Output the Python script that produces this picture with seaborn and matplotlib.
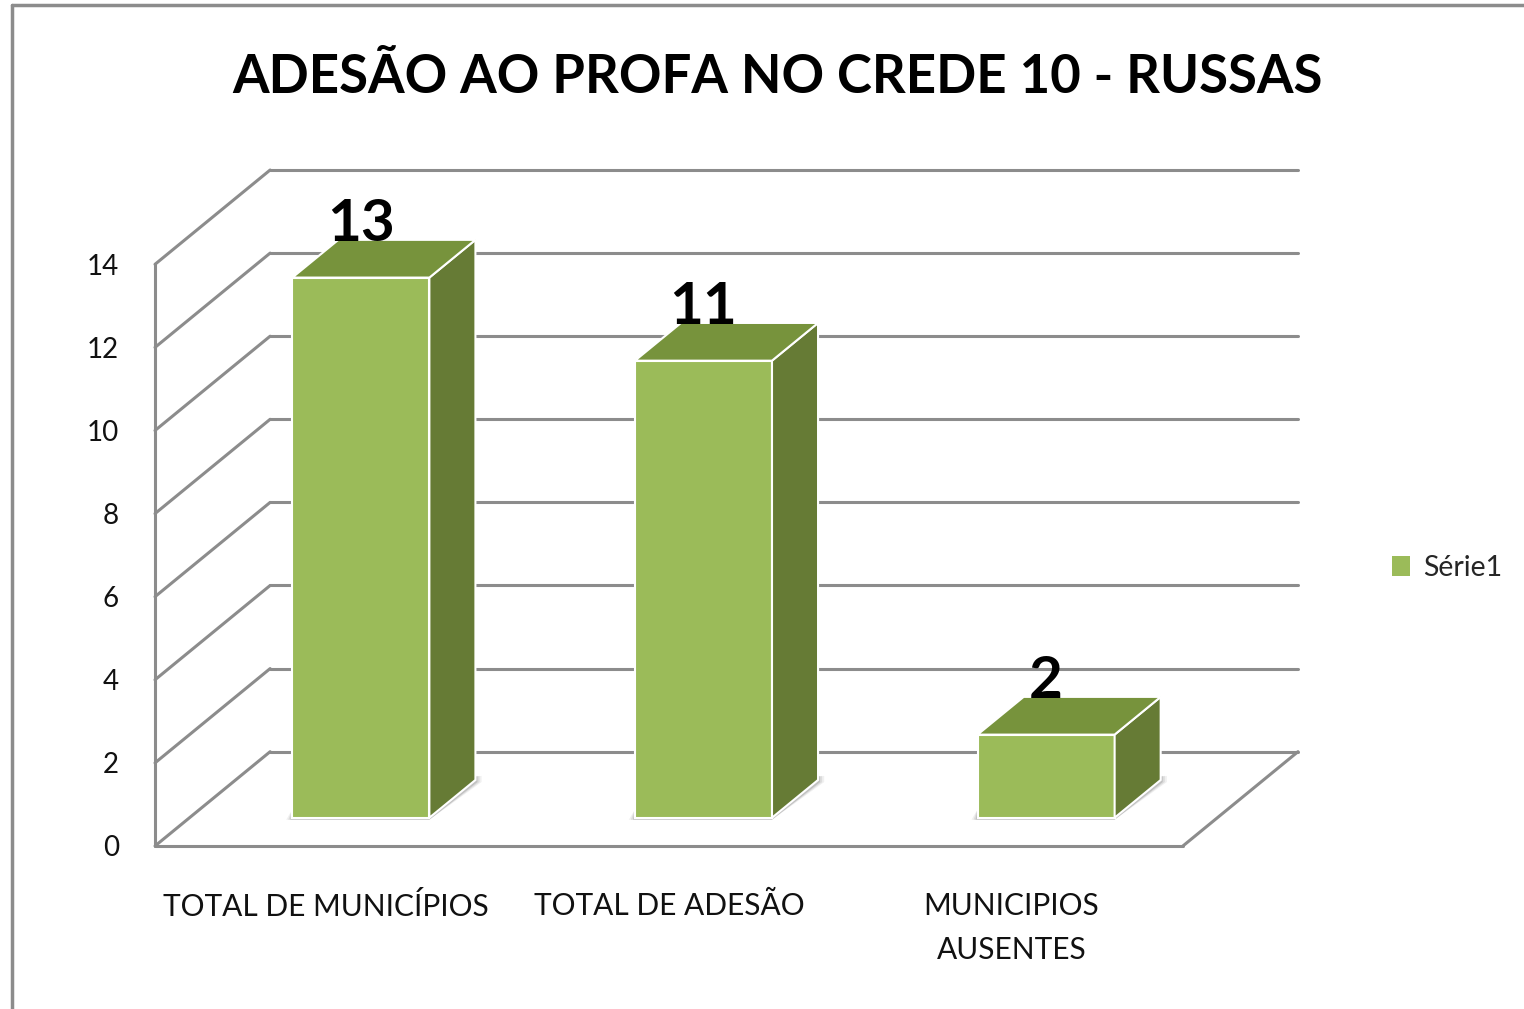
import numpy as np
import pandas as pd
import matplotlib.pyplot as plt
from matplotlib.patches import Polygon, Patch
from matplotlib.lines import Line2D
import seaborn as sns

# ── data ──────────────────────────────────────────────
categories = ["TOTAL DE MUNICÍPIOS", "TOTAL DE ADESÃO", "MUNICIPIOS\nAUSENTES"]
values = [13, 11, 2]
series_name = "Série1"
y_ticks = [0, 2, 4, 6, 8, 10, 12, 14]
title = "ADESÃO AO PROFA NO CREDE 10 - RUSSAS"

df = pd.DataFrame({"cat": categories, "val": values})

# ── style ─────────────────────────────────────────────
sns.set_style("white")
plt.rcParams['font.family'] = ['Lato', 'DejaVu Sans']

FRONT = "#9BBB59"
TOP = "#77933C"
SIDE = "#667B35"
GRID = "#8C8C8C"

# oblique "3D" depth offset, in data units
DX = 0.336
DY = 2.27
BAR_D0, BAR_D1 = 0.3, 0.7   # bar sits between these depth fractions
BAR_W = 0.4

W, H = 1524, 1009
fig = plt.figure(figsize=(W / 100, H / 100), dpi=100)
ax = fig.add_axes([155 / W, (H - 846) / H, (1298 - 155) / W, (846 - 170) / H])

sns.barplot(data=df, x="cat", y="val", width=BAR_W, color=FRONT, saturation=1,
            edgecolor="white", linewidth=1.5, ax=ax, zorder=3)

ax.set_xlim(-0.5, 2.5 + DX)
ax.set_ylim(0, 14 + DY)
n = len(categories)
x0, x1 = -0.5, n - 0.5

# back wall + left wall + floor lines
for v in y_ticks:
    ax.add_line(Line2D([x0 + DX, x1 + DX], [v + DY, v + DY], color=GRID, lw=2.2,
                       zorder=1, clip_on=False))
    ax.add_line(Line2D([x0, x0 + DX], [v, v + DY], color=GRID, lw=2.2,
                       zorder=1, clip_on=False))
ax.add_line(Line2D([x0, x0], [0, max(y_ticks)], color=GRID, lw=2.2, zorder=1, clip_on=False))
ax.add_line(Line2D([x0, x1], [0, 0], color=GRID, lw=2.2, zorder=1, clip_on=False))
ax.add_line(Line2D([x1, x1 + DX], [0, DY], color=GRID, lw=2.2, zorder=1, clip_on=False))

# turn the flat bars into boxes
ox, oy = BAR_D0 * DX, BAR_D0 * DY
dx, dy = (BAR_D1 - BAR_D0) * DX, (BAR_D1 - BAR_D0) * DY
for p, v in zip(ax.patches, values):
    p.set_x(p.get_x() + ox)
    p.set_y(p.get_y() + oy)
    bx, by = p.get_x(), p.get_y()
    bw, bh = p.get_width(), p.get_height()
    # soft shadow
    for k, a in enumerate([0.10, 0.14, 0.20]):
        s = 0.05 * (3 - k)
        ax.add_patch(Polygon([[bx - 0.02 * s * 6, by - 0.05], [bx + bw, by - 0.05],
                              [bx + bw + dx + 0.03 * s * 4, by + dy - 0.05],
                              [bx + bw + dx + 0.03 * s * 4, by + dy + 0.1],
                              [bx, by + 0.2]],
                             closed=True, facecolor="#000000", alpha=a * 0.6,
                             edgecolor="none", zorder=2))
    side = [[bx + bw, by], [bx + bw, by + bh], [bx + bw + dx, by + bh + dy], [bx + bw + dx, by + dy]]
    top = [[bx, by + bh], [bx + bw, by + bh], [bx + bw + dx, by + bh + dy], [bx + dx, by + bh + dy]]
    ax.add_patch(Polygon(side, closed=True, facecolor=SIDE, edgecolor="white", lw=1.5, zorder=4))
    ax.add_patch(Polygon(top, closed=True, facecolor=TOP, edgecolor="white", lw=1.5, zorder=4))
    ax.text(bx + bw / 2, by + bh + dy - 0.02, f"{v}", ha="center", va="baseline",
            fontsize=42, fontweight="bold", color="black", zorder=5)

# axes cosmetics
sns.despine(ax=ax, left=True, bottom=True)
ax.set_xlabel("")
ax.set_ylabel("")
ax.set_yticks(y_ticks)
ax.set_yticklabels([str(t) for t in y_ticks], fontsize=20, color="#111111")
ax.set_xticks(range(n))
ax.set_xticklabels(categories, fontsize=21.5, color="#111111", linespacing=1.7)
ax.tick_params(axis="y", length=0, pad=26)
ax.tick_params(axis="x", length=0, pad=33)
for lbl in ax.get_xticklabels():
    lbl.set_verticalalignment("top")

fig.suptitle(title, x=777 / W, y=1 - 53 / H, va="top", fontsize=38, fontweight="bold",
             color="black")

ax.legend(handles=[Patch(facecolor=FRONT, edgecolor="none", label=series_name)],
          loc="center left", bbox_to_anchor=(1366 / W, 1 - 568 / H),
          bbox_transform=fig.transFigure, frameon=False, fontsize=20.5,
          handlelength=0.65, handleheight=0.65, handletextpad=0.45)

# chart frame
fig.add_artist(Line2D([12 / W, 12 / W], [0, 1 - 5 / H], color=GRID, lw=2.5,
                      transform=fig.transFigure))
fig.add_artist(Line2D([12 / W, 1], [1 - 5 / H, 1 - 5 / H], color=GRID, lw=2.5,
                      transform=fig.transFigure))

fig.savefig("out.png", dpi=100)
